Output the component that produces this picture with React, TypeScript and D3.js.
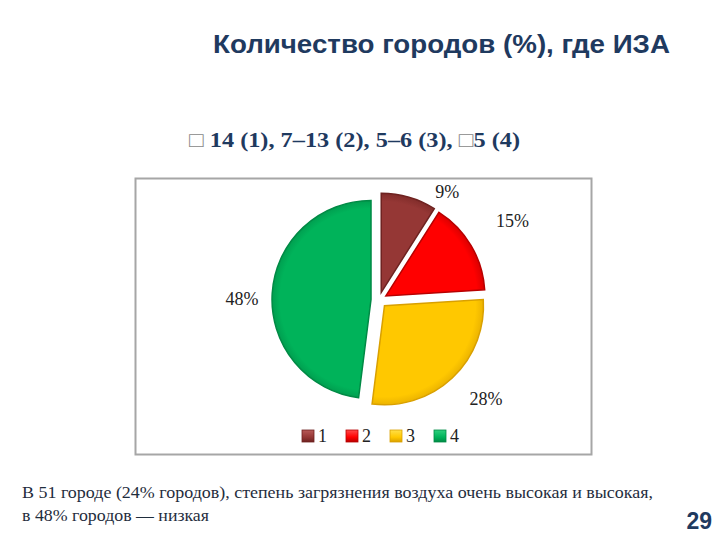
import React from "react";
import * as d3 from "d3";

const categories = ["1", "2", "3", "4"];
const values = [9, 15, 28, 48];
const labels = ["9%", "15%", "28%", "48%"];
const colors = ["#953735", "#ff0000", "#ffc800", "#00b35a"];
const darkColors = ["#6e2220", "#b80000", "#d9a000", "#008a45"];
const lightColors = ["#b85a58", "#ff4a4a", "#ffe04a", "#2fd07e"];

const title = "Количество городов (%), где ИЗА";
const subtitleParts = ["\u25A1", " 14 (1), 7–13 (2), 5–6 (3), ", "\u25A1", "5 (4)"];
const footLines = [
  "В 51 городе (24% городов), степень загрязнения воздуха очень высокая и высокая,",
  "в 48% городов — низкая",
];
const pageNumber = "29";

const SERIF = "'Liberation Serif', 'Times New Roman', 'DejaVu Serif', serif";
const SANS = "'Liberation Sans', Arial, sans-serif";

export default function App() {
  const W = 720, H = 540;
  const cx = 379, cy = 300, r = 99, explode = 8;
  const pie = d3.pie<number>().sort(null).value((d) => d)(values);
  const arc = d3.arc<d3.PieArcDatum<number>>().innerRadius(0).outerRadius(r);
  const labelR = [128, 155, 146, 137];
  const labelShift = [16, 0, -4, -3];
  const navy = "#1f3a5f";
  const legendX = d3.scaleBand<string>().domain(categories).range([302, 478]);
  const footWidths = [631, 187];

  return (
    <svg width={W} height={H} style={{ position: "absolute", left: 0, top: 0, background: "#fff" }}>
      <defs>
        {colors.map((c, i) => (
          <radialGradient key={i} id={`g${i}`} cx="0" cy="0" r={r + explode} gradientUnits="userSpaceOnUse">
            <stop offset="0%" stopColor={colors[i]} />
            <stop offset="85%" stopColor={colors[i]} />
            <stop offset="100%" stopColor={darkColors[i]} />
          </radialGradient>
        ))}
        {colors.map((c, i) => (
          <linearGradient key={i} id={`lg${i}`} x1="0" y1="0" x2="0" y2="1">
            <stop offset="0%" stopColor={lightColors[i]} />
            <stop offset="60%" stopColor={colors[i]} />
            <stop offset="100%" stopColor={darkColors[i]} />
          </linearGradient>
        ))}
      </defs>
      <rect x={0} y={0} width={W} height={H} fill="#fff" />
      <text x={213} y={53} fontFamily={SANS} fontWeight="bold" fontSize={25.5} fill={navy} textLength={457} lengthAdjust="spacingAndGlyphs">
        {title}
      </text>
      <text x={189} y={147} fontFamily={SERIF} fontWeight="bold" fontSize={21.5} fill={navy} textLength={331} lengthAdjust="spacingAndGlyphs">
        <tspan fill="#888" fontWeight="normal">{subtitleParts[0]}</tspan>
        <tspan>{subtitleParts[1]}</tspan>
        <tspan fill="#888" fontWeight="normal">{subtitleParts[2]}</tspan>
        <tspan>{subtitleParts[3]}</tspan>
      </text>
      <rect x={135.5} y={178.5} width={456} height={276} fill="#fff" stroke="#a6a6a6" strokeWidth={2} />
      <g transform={`translate(${cx},${cy})`}>
        {pie.map((p, i) => {
          const mid = (p.startAngle + p.endAngle) / 2;
          const ox = Math.sin(mid) * explode, oy = -Math.cos(mid) * explode;
          return (
            <g key={i} transform={`translate(${ox},${oy})`}>
              <path d={arc(p) || ""} fill={`url(#g${i})`} stroke={darkColors[i]} strokeWidth={1.5} />
            </g>
          );
        })}
        {pie.map((p, i) => {
          const mid = (p.startAngle + p.endAngle) / 2 + (labelShift[i] * Math.PI) / 180;
          const lx = Math.sin(mid) * labelR[i], ly = -Math.cos(mid) * labelR[i];
          return (
            <text key={i} x={lx} y={ly} dy="0.35em" textAnchor="middle" fontFamily={SERIF} fontSize={18} fill="#222">
              {labels[i]}
            </text>
          );
        })}
      </g>
      {categories.map((c, i) => (
        <g key={c} transform={`translate(${legendX(c)},430)`}>
          <rect x={0} y={0} width={12} height={12} fill={`url(#lg${i})`} stroke={darkColors[i]} strokeWidth={0.8} />
          <text x={16} y={12} fontFamily={SERIF} fontSize={18} fill="#222">
            {c}
          </text>
        </g>
      ))}
      {footLines.map((t, i) => (
        <text key={i} x={22} y={498 + i * 23} fontFamily={SERIF} fontSize={17} fill="#1f2d3d" textLength={footWidths[i]} lengthAdjust="spacingAndGlyphs">
          {t}
        </text>
      ))}
      <text x={712} y={529} textAnchor="end" fontFamily={SANS} fontWeight="bold" fontSize={23} fill={navy}>
        {pageNumber}
      </text>
    </svg>
  );
}
